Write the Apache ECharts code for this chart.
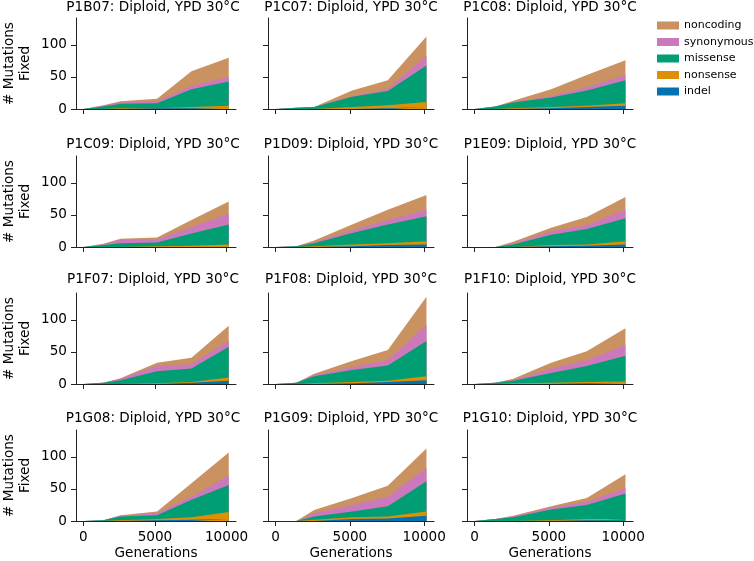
<!DOCTYPE html>
<html>
<head>
<meta charset="utf-8">
<script src="https://cdn.jsdelivr.net/npm/echarts@6/dist/echarts.min.js"></script>
<style>
html,body{margin:0;padding:0;background:#fff;}
#chart{width:754px;height:561px;}
</style>
</head>
<body>
<div id="chart"></div>
<script>
const panels = ['P1B07', 'P1C07', 'P1C08', 'P1C09', 'P1D09', 'P1E09', 'P1F07', 'P1F08', 'P1F10', 'P1G08', 'P1G09', 'P1G10'];
const titleSuffix = ': Diploid, YPD 30°C';
const generations = [0, 1400, 2600, 5150, 7550, 10150];
const xTicks = [0, 5000, 10000];
const yTicks = [0, 50, 100];
const categories = ['indel', 'nonsense', 'missense', 'synonymous', 'noncoding'];
const colors = ['#0173b2', '#de8f05', '#029e73', '#cc78bc', '#ca9161'];

const indel = [
  [0,0,0,1,1,2],
  [0,0,0,0,1,3],
  [0,0,0,1,3,5],
  [0,0,0,0,0,1],
  [0,0,0,1,3,4],
  [0,0,0,1,2,4],
  [0,0,0,0,2,5],
  [0,0,0,1,3,6],
  [0,0,0,0,1,2],
  [0,0,0,1,2,3],
  [0,0,0,3,4,8],
  [0,0,0,0,1,1]
];
const nonsense = [
  [0,0,1,0,2,3],
  [0,0,0,3,5,8],
  [0,0,1,2,2,4],
  [0,0,0,1,2,3],
  [0,0,1,3,3,5],
  [0,0,0,2,2,5],
  [0,0,0,1,1,5],
  [0,0,1,2,2,6],
  [0,0,1,2,2,2],
  [0,0,1,2,4,11],
  [0,0,2,3,3,7],
  [0,0,0,1,2,2]
];
const missense = [
  [0,4,7,8,28,38],
  [0,2,3,16,22,57],
  [0,4,9,15,24,36],
  [0,3,6,6,19,31],
  [0,1,5,18,29,39],
  [0,0,4,16,24,36],
  [0,2,6,19,21,48],
  [0,2,11,19,24,55],
  [0,2,4,15,25,40],
  [0,1,6,6,27,42],
  [0,0,5,9,16,47],
  [0,3,6,17,22,40]
];
const synonymous = [
  [0,1,2,3,5,7],
  [0,0,0,1,3,15],
  [0,0,1,2,5,8],
  [0,1,5,5,10,17],
  [0,0,1,4,7,10],
  [0,0,1,5,6,13],
  [0,0,2,8,7,10],
  [0,0,2,4,8,25],
  [0,0,1,7,9,17],
  [0,0,1,3,5,15],
  [0,0,5,10,15,21],
  [0,0,1,3,5,8]
];
const noncoding = [
  [0,1,2,4,23,30],
  [0,0,0,9,14,30],
  [0,0,2,11,19,23],
  [0,1,2,3,11,19],
  [0,0,3,9,16,23],
  [0,0,3,6,13,20],
  [0,0,1,5,10,23],
  [0,0,2,10,16,44],
  [0,0,2,9,14,26],
  [0,0,1,3,21,36],
  [0,0,5,11,17,30],
  [0,0,1,2,6,22]
];
const seriesValues = [indel, nonsense, missense, synonymous, noncoding];

const FONT = 'DejaVu Sans';
const colLeft = [70, 268, 467];
const rowTop = [18, 156, 293, 430];
const gridW = 166, gridH = 91;
const titleY = [7.5, 144, 279, 418];
const axisColor = '#222';
const FS = 13.6;

const grids = [], xAxes = [], yAxes = [], series = [], graphics = [];
panels.forEach((p, i) => {
  const r = Math.floor(i / 3), c = i % 3;
  grids.push({left: colLeft[c], top: rowTop[r], width: gridW, height: gridH});
  xAxes.push({
    gridIndex: i, type: 'value', min: -507.5, max: 10657.5,
    splitLine: {show: false},
    axisLine: {show: true, onZero: false, lineStyle: {color: axisColor, width: 1}},
    axisTick: {show: true, length: 5, customValues: xTicks, lineStyle: {color: axisColor, width: 1}},
    axisLabel: {show: r === 3, customValues: xTicks, margin: 9, fontSize: FS, color: '#000', fontFamily: FONT,
                formatter: v => String(v)},
    name: r === 3 ? 'Generations' : '', nameLocation: 'middle', nameGap: 25,
    nameTextStyle: {fontSize: FS, color: '#000', fontFamily: FONT}
  });
  yAxes.push({
    gridIndex: i, type: 'value', min: 0, max: 142,
    splitLine: {show: false},
    axisLine: {show: true, onZero: false, lineStyle: {color: axisColor, width: 1}},
    axisTick: {show: true, length: 5, customValues: yTicks, lineStyle: {color: axisColor, width: 1}},
    axisLabel: {show: c === 0, customValues: yTicks, margin: 9, fontSize: FS, color: '#000', fontFamily: FONT,
                formatter: v => String(v)},
    name: c === 0 ? '# Mutations\nFixed' : '', nameLocation: 'middle', nameGap: 43, nameRotate: 90,
    nameTextStyle: {fontSize: FS, color: '#000', fontFamily: FONT, lineHeight: 16}
  });
  graphics.push({
    type: 'text', x: colLeft[c] + gridW / 2, y: titleY[r], silent: true,
    style: {text: p + titleSuffix, align: 'center', verticalAlign: 'middle', font: FS + 'px "DejaVu Sans"', fill: '#000'}
  });
  // cumulative stack tops, drawn from the top layer down so lower layers paint over
  const cum = categories.map(() => generations.map(() => 0));
  categories.forEach((cat, k) => {
    generations.forEach((g, j) => {
      cum[k][j] = (k > 0 ? cum[k - 1][j] : 0) + seriesValues[k][i][j];
    });
  });
  for (let k = categories.length - 1; k >= 0; k--) {
    series.push({
      type: 'line', name: categories[k], xAxisIndex: i, yAxisIndex: i,
      data: generations.map((g, j) => [g, cum[k][j]]),
      symbol: 'none', showSymbol: false, silent: true,
      color: colors[k],
      itemStyle: {color: colors[k]},
      lineStyle: {width: 0, color: colors[k]},
      areaStyle: {color: colors[k], opacity: 1, origin: 'start'},
      z: 2
    });
  }
});

const chart = echarts.init(document.getElementById('chart'), null, {renderer: 'canvas'});
chart.setOption({
  animation: false,
  backgroundColor: '#fff',
  grid: grids,
  xAxis: xAxes,
  yAxis: yAxes,
  series: series,
  graphic: graphics,
  legend: {
    orient: 'vertical', left: 652, top: 15,
    itemWidth: 22, itemHeight: 8, itemGap: 5.5, icon: 'rect',
    selectedMode: false,
    data: categories.slice().reverse(),
    textStyle: {fontSize: 11, color: '#000', fontFamily: FONT}
  }
});
</script>
</body>
</html>
